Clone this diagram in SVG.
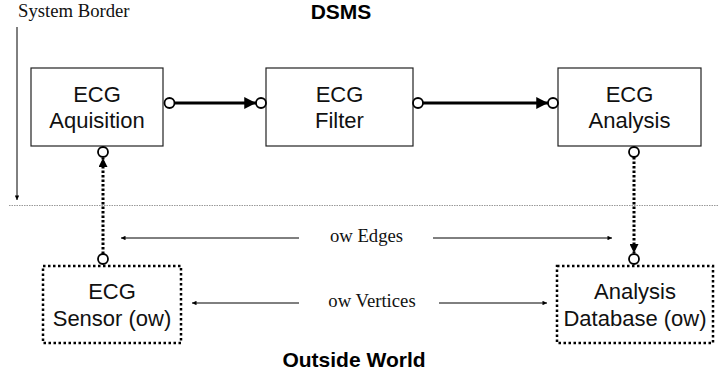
<svg xmlns="http://www.w3.org/2000/svg" width="718" height="375" viewBox="0 0 718 375">
<style>
.box{fill:#fff;stroke:#222;stroke-width:1.2}
.owbox{fill:#fff;stroke:#000;stroke-width:2.5;stroke-dasharray:2.5 2.5}
.port{fill:#fff;stroke:#000;stroke-width:1.8}
.sans{font-family:"Liberation Sans",Arial,sans-serif;font-size:22px;fill:#111;text-anchor:middle}
.bold{font-family:"Liberation Sans",Arial,sans-serif;font-weight:bold;font-size:21px;fill:#000;text-anchor:middle}
.serif{font-family:"Liberation Serif","Times New Roman",serif;font-size:18.7px;fill:#111}
.thick{stroke:#000;stroke-width:2.8;fill:none}
.dot{stroke:#000;stroke-width:3;stroke-dasharray:2.5 2;fill:none}
.thin{stroke:#000;stroke-width:1;fill:none}
</style>
<defs>
<marker id="big" viewBox="0 0 10 10" refX="10" refY="5" markerWidth="5.5" markerHeight="4.2" markerUnits="strokeWidth" orient="auto">
<path d="M0,0 L10,5 L0,10 z" fill="#000"/>
</marker>
<marker id="mid" viewBox="0 0 10 10" refX="10" refY="5" markerWidth="3" markerHeight="3" markerUnits="strokeWidth" orient="auto">
<path d="M0,0 L10,5 L0,10 z" fill="#000"/>
</marker>
<marker id="small" viewBox="0 0 10 10" refX="10" refY="5" markerWidth="7" markerHeight="4.5" markerUnits="strokeWidth" orient="auto">
<path d="M0,0 L10,5 L0,10 z" fill="#000"/>
</marker>
</defs>

<g id="labels">
<text class="serif" x="18" y="16.5">System Border</text>
<text class="bold" x="341" y="18.5" font-size="19.5">DSMS</text>
<text class="bold" x="354" y="367">Outside World</text>
<text class="serif" x="366.5" y="242" text-anchor="middle">ow Edges</text>
<text class="serif" x="372" y="307" text-anchor="middle">ow Vertices</text>
</g>

<g id="system-border">
<line x1="9" y1="205.5" x2="718" y2="205.5" stroke="#999" stroke-width="1" stroke-dasharray="1.5 1"/>
<line class="thin" x1="17" y1="27" x2="17" y2="200" marker-end="url(#small)"/>
</g>

<g id="ecg-aquisition">
<rect class="box" x="31" y="68" width="132" height="78"/>
<text class="sans" x="97" y="102">ECG</text>
<text class="sans" x="97" y="128">Aquisition</text>
</g>
<g id="ecg-filter">
<rect class="box" x="266" y="68" width="147" height="78"/>
<text class="sans" x="339.5" y="102">ECG</text>
<text class="sans" x="339.5" y="128">Filter</text>
</g>
<g id="ecg-analysis">
<rect class="box" x="558" y="68" width="143" height="78"/>
<text class="sans" x="629.5" y="102">ECG</text>
<text class="sans" x="629.5" y="128">Analysis</text>
</g>
<g id="ecg-sensor">
<rect class="owbox" x="43" y="266" width="138" height="77"/>
<text class="sans" x="112" y="299">ECG</text>
<text class="sans" x="112" y="326">Sensor (ow)</text>
</g>
<g id="analysis-database">
<rect class="owbox" x="557" y="266" width="156" height="77"/>
<text class="sans" x="635" y="299">Analysis</text>
<text class="sans" x="635" y="326">Database (ow)</text>
</g>

<g id="connectors">
<line class="thick" x1="175" y1="103" x2="256" y2="103" marker-end="url(#big)"/>
<line class="thick" x1="423" y1="103" x2="548" y2="103" marker-end="url(#big)"/>
<line class="dot" x1="103" y1="254" x2="103" y2="158" marker-end="url(#mid)"/>
<line class="dot" x1="634" y1="157" x2="634" y2="253" marker-end="url(#mid)"/>
<line class="thin" x1="299" y1="238" x2="121" y2="238" marker-end="url(#small)"/>
<line class="thin" x1="433" y1="238" x2="612" y2="238" marker-end="url(#small)"/>
<line class="thin" x1="299" y1="303" x2="192" y2="303" marker-end="url(#small)"/>
<line class="thin" x1="439" y1="303" x2="547" y2="303" marker-end="url(#small)"/>
<circle class="port" cx="169.5" cy="103" r="5"/>
<circle class="port" cx="261" cy="103" r="5"/>
<circle class="port" cx="418" cy="103" r="5"/>
<circle class="port" cx="553" cy="103" r="5"/>
<circle class="port" cx="103" cy="152" r="5"/>
<circle class="port" cx="634" cy="152" r="5"/>
<circle class="port" cx="103" cy="259" r="5"/>
<circle class="port" cx="634" cy="259" r="5"/>
</g>
</svg>
